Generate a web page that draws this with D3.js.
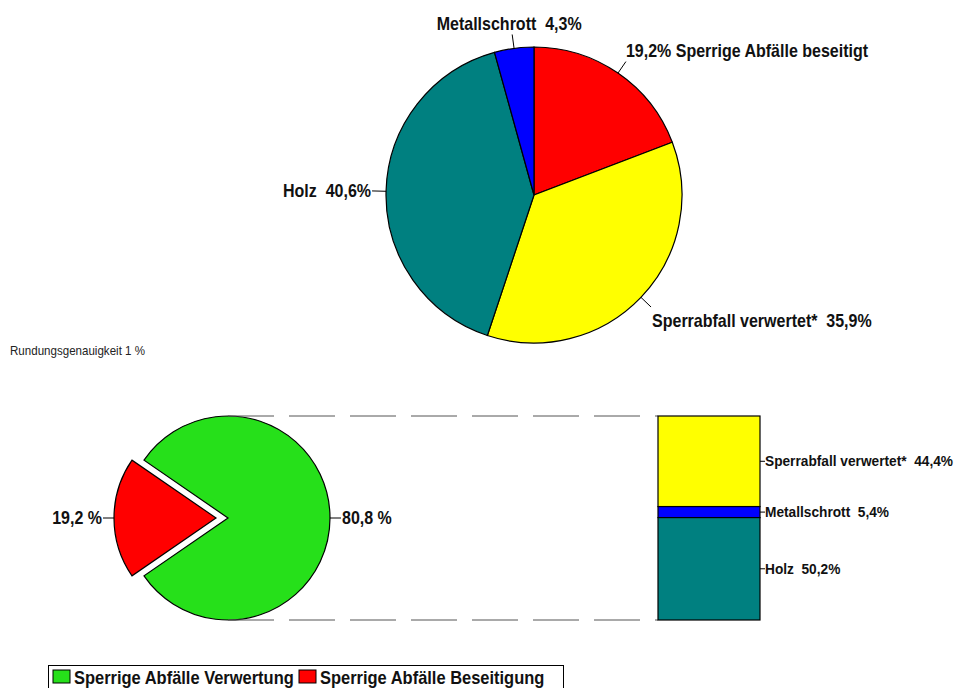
<!DOCTYPE html>
<html>
<head>
<meta charset="utf-8">
<script src="https://cdn.jsdelivr.net/npm/d3@7"></script>
<style>
  body { margin: 0; background: #fff; }
  svg { display: block; font-family: "Liberation Sans", Arial, sans-serif; }
  text { white-space: pre; }
  .lbl { font-weight: bold; fill: #111; }
</style>
</head>
<body>
<script>
// top pie: share of total
const topNames = ["Sperrige Abfälle beseitigt", "Sperrabfall verwertet*", "Holz", "Metallschrott"]
const topValues = [19.2, 35.9, 40.6, 4.3]
const topLabels = ["19,2% Sperrige Abfälle beseitigt", "Sperrabfall verwertet*  35,9%", "Holz  40,6%", "Metallschrott  4,3%"]
const topColors = ["#ff0000", "#ffff00", "#008080", "#0000ff"]

// bottom pie: Verwertung vs Beseitigung
const splitNames = ["Sperrige Abfälle Verwertung", "Sperrige Abfälle Beseitigung"]
const splitValues = [80.8, 19.2]
const splitLabels = ["80,8 %", "19,2 %"]
const splitColors = ["#26e01a", "#ff0000"]

// stacked bar: breakdown of Verwertung
const barNames = ["Sperrabfall verwertet*", "Metallschrott", "Holz"]
const barValues = [44.4, 5.4, 50.2]
const barLabels = ["Sperrabfall verwertet*  44,4%", "Metallschrott  5,4%", "Holz  50,2%"]
const barColors = ["#ffff00", "#0000ff", "#008080"]

const w = 954, h = 688
const narrow = 0.89 // no Arial Narrow installed, squeeze Liberation Sans instead
const svg = d3.select("body").append("svg").attr("width", w).attr("height", h)

function addText(parent, x, y, str, size, anchor, cls) {
  return parent.append("text")
    .attr("class", cls || "lbl")
    .attr("transform", "translate(" + x + "," + y + ") scale(" + narrow + ",1)")
    .attr("text-anchor", anchor || "start")
    .style("font-size", size + "px")
    .text(str)
}

// ---- top pie
const cx1 = 534, cy1 = 195, r1 = 148
const pie1 = d3.pie().sort(null).value(d => d)
const arcs1 = pie1(topValues)
const arc1 = d3.arc().innerRadius(0).outerRadius(r1)
const g1 = svg.append("g").attr("transform", "translate(" + cx1 + "," + cy1 + ")")
g1.selectAll("path")
  .data(arcs1)
  .enter()
  .append("path")
  .attr("d", arc1)
  .attr("fill", (d, i) => topColors[i])
  .attr("stroke", "#000")
  .attr("stroke-width", 1.2)

// text placement relative to end of leader line
const topLayout = [
  { anchor: "start", dx: 0, dy: -5 },
  { anchor: "start", dx: 1, dy: 20 },
  { anchor: "end", dx: -1, dy: 6 },
  { anchor: "middle", dx: -3, dy: -4 }
]
arcs1.forEach((d, i) => {
  const a = (d.startAngle + d.endAngle) / 2
  const x0 = Math.sin(a) * r1, y0 = -Math.cos(a) * r1
  const x1 = Math.sin(a) * (r1 + 14), y1 = -Math.cos(a) * (r1 + 14)
  g1.append("line")
    .attr("x1", x0).attr("y1", y0).attr("x2", x1).attr("y2", y1)
    .attr("stroke", "#000").attr("stroke-width", 1)
  addText(g1, x1 + topLayout[i].dx, y1 + topLayout[i].dy, topLabels[i], 18, topLayout[i].anchor)
})

addText(svg, 10, 355, "Rundungsgenauigkeit 1 %", 13, "start", "note").style("fill", "#222")

// ---- bottom pie
const cx2 = 228, cy2 = 518, r2 = 102
const redSpan = splitValues[1] / 100 * 2 * Math.PI
const start2 = 1.5 * Math.PI + redSpan / 2
const pie2 = d3.pie().sort(null).value(d => d)
  .startAngle(start2).endAngle(start2 + 2 * Math.PI)
const arcs2 = pie2(splitValues)
const arc2 = d3.arc().innerRadius(0).outerRadius(r2)
const explode = 12
const g2 = svg.append("g").attr("transform", "translate(" + cx2 + "," + cy2 + ")")
g2.selectAll("path")
  .data(arcs2)
  .enter()
  .append("path")
  .attr("d", arc2)
  .attr("transform", (d, i) => {
    if (i == 1) {
      const a = (d.startAngle + d.endAngle) / 2
      return "translate(" + Math.sin(a) * explode + "," + (-Math.cos(a) * explode) + ")"
    }
    return null
  })
  .attr("fill", (d, i) => splitColors[i])
  .attr("stroke", "#000")
  .attr("stroke-width", 1.2)

arcs2.forEach((d, i) => {
  const a = (d.startAngle + d.endAngle) / 2
  const off = i == 1 ? explode : 0
  const ux = Math.sin(a), uy = -Math.cos(a)
  const x0 = ux * (r2 + off), y0 = uy * (r2 + off)
  const x1 = ux * (r2 + off + 11), y1 = uy * (r2 + off + 11)
  g2.append("line")
    .attr("x1", x0).attr("y1", y0).attr("x2", x1).attr("y2", y1)
    .attr("stroke", "#000")
  addText(g2, x1 + (ux > 0 ? 1 : -1), y1 + 6, splitLabels[i], 18, ux > 0 ? "start" : "end")
})

// ---- stacked bar
const barX = 658, barW = 102
const yBar = d3.scaleLinear().domain([0, 100]).range([cy2 - r2, cy2 + r2])
const stacked = []
let acc = 0
barValues.forEach((v, i) => {
  stacked.push({ y0: acc, y1: acc + v, i: i })
  acc += v
})

// dashed connectors
svg.selectAll(".conn")
  .data([0, 100])
  .enter()
  .append("line")
  .attr("class", "conn")
  .attr("x1", cx2).attr("x2", barX)
  .attr("y1", d => yBar(d)).attr("y2", d => yBar(d))
  .attr("stroke", "#555")
  .attr("stroke-width", 1)
  .attr("stroke-dasharray", "46,15")

svg.selectAll(".seg")
  .data(stacked)
  .enter()
  .append("rect")
  .attr("class", "seg")
  .attr("x", barX)
  .attr("y", d => yBar(d.y0))
  .attr("width", barW)
  .attr("height", d => yBar(d.y1) - yBar(d.y0))
  .attr("fill", d => barColors[d.i])
  .attr("stroke", "#000")
  .attr("stroke-width", 1.2)

stacked.forEach(d => {
  const ym = yBar((d.y0 + d.y1) / 2)
  svg.append("line")
    .attr("x1", barX + barW).attr("x2", barX + barW + 5)
    .attr("y1", ym).attr("y2", ym)
    .attr("stroke", "#000")
  addText(svg, barX + barW + 5, ym + 5, barLabels[d.i], 15.4, "start")
})

// ---- legend (pulled up a few px so descenders stay inside the page)
const lg = svg.append("g")
lg.append("rect")
  .attr("x", 48.5).attr("y", 665.5)
  .attr("width", 515).attr("height", 30)
  .attr("fill", "none").attr("stroke", "#000")
const legX = [53, 299]
splitNames.forEach((n, i) => {
  lg.append("rect")
    .attr("x", legX[i]).attr("y", 670)
    .attr("width", 17).attr("height", 13)
    .attr("fill", splitColors[i]).attr("stroke", "#000")
  addText(lg, legX[i] + 21, 683.5, n, 18.5, "start")
})
</script>
</body>
</html>
